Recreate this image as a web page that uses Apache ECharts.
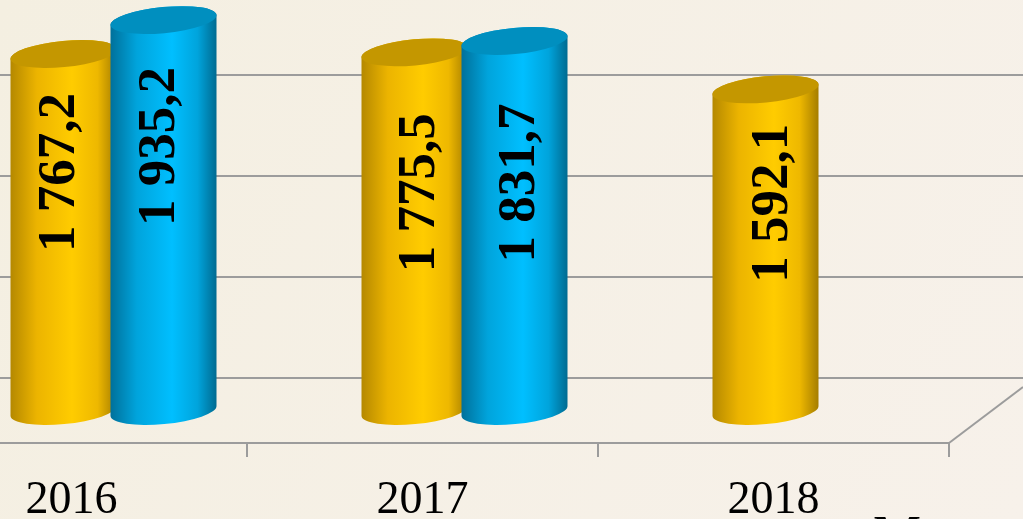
<!DOCTYPE html>
<html><head><meta charset="utf-8">
<style>html,body{margin:0;padding:0;background:#f5f0e6}#c{width:1023px;height:519px}</style>
<script src="https://cdn.jsdelivr.net/npm/echarts@6/dist/echarts.min.js"></script>
</head><body><div id="c"></div>
<script>
const categories = ['2016', '2017', '2018'];
const goldValues = [1767.2, 1775.5, 1592.1];
const blueValues = [1935.2, 1831.7, null];
const goldLabelNudge = [[-3, -60], [6, -39], [8, -47]];
const blueLabelNudge = [[-3, -69], [6, -43], [0, 0]];

const SERIF = '"Liberation Serif","Times New Roman",serif';
const fmt = v => { const s = v.toFixed(1).replace('.', ','); const p = s.split(','); return p[0].replace(/\B(?=(\d{3})+$)/g, ' ') + ',' + p[1]; };
const pal = {
  gold: {top: '#c49700', stops: ['#b48800', '#ecb400', '#ffcc00', '#eeb800', '#a47c00']},
  blue: {top: '#008fbf', stops: ['#00709a', '#00a4dc', '#00bfff', '#00a4dc', '#006a90']}
};
function cyl(kind, shift, nudges) {
  const RX = 53, RY = 13, TILT = 5, ROT = -5.5;
  return function (params, api) {
    const v = api.value(1);
    if (v == null || isNaN(v)) return null;
    const top = api.coord([api.value(0), v]);
    const base = api.coord([api.value(0), 0]);
    const cx = top[0] + shift, L = cx - RX, R = cx + RX;
    const yt = top[1], yb = base[1], c = pal[kind], n = nudges[params.dataIndex];
    const body = `M${L} ${yt + TILT}L${L} ${yb + TILT}A${RX} ${RY} ${ROT} 0 0 ${R} ${yb - TILT}L${R} ${yt - TILT}A${RX} ${RY} ${ROT} 0 0 ${L} ${yt + TILT}Z`;
    const cap = `M${L} ${yt + TILT}A${RX} ${RY} ${ROT} 0 1 ${R} ${yt - TILT}A${RX} ${RY} ${ROT} 0 1 ${L} ${yt + TILT}Z`;
    return {type: 'group', children: [
      {type: 'path', shape: {pathData: body}, style: {fill: {type: 'linear', x: 0, y: 0, x2: 1, y2: 0,
        colorStops: [{offset: 0, color: c.stops[0]}, {offset: .25, color: c.stops[1]}, {offset: .58, color: c.stops[2]}, {offset: .82, color: c.stops[3]}, {offset: 1, color: c.stops[4]}]}}},
      {type: 'path', shape: {pathData: cap}, style: {fill: c.top}},
      {type: 'text', x: cx + n[0], y: (yt + yb) / 2 + n[1], rotation: Math.PI / 2,
        style: {text: fmt(v), font: 'bold 53px ' + SERIF, fill: '#000', align: 'center', verticalAlign: 'middle'}}
    ]};
  };
}
const chart = echarts.init(document.getElementById('c'), null, {renderer: 'canvas'});
chart.setOption({
  animation: false,
  backgroundColor: {type: 'linear', x: 0, y: 0, x2: 1, y2: 1, colorStops: [{offset: 0, color: '#f4efe1'}, {offset: 1, color: '#f7f1ea'}]},
  grid: [
    {left: -104, width: 1053, top: 7, height: 404, outerBoundsMode: 'none'},
    {left: 0, right: 0, top: 75, height: 303, outerBoundsMode: 'none'}
  ],
  xAxis: [
    {type: 'category', gridIndex: 0, data: categories, offset: 32,
      axisLine: {onZero: false, lineStyle: {color: '#9c9c9c', width: 2}},
      axisTick: {show: true, length: 14, lineStyle: {color: '#9c9c9c', width: 2}},
      axisLabel: {show: true, interval: 0, color: '#000', fontFamily: SERIF, fontSize: 46, margin: 35}},
    {type: 'category', gridIndex: 1, data: categories, show: false}
  ],
  yAxis: [
    {type: 'value', gridIndex: 0, min: 0, max: 2000, show: false},
    {type: 'value', gridIndex: 1, min: 0, max: 1500, interval: 500,
      axisLabel: {show: false}, axisLine: {show: false}, axisTick: {show: false},
      splitLine: {show: true, lineStyle: {color: '#9c9c9c', width: 2}}}
  ],
  series: [
    {type: 'custom', name: 'gold', xAxisIndex: 0, yAxisIndex: 0, z: 3, renderItem: cyl('gold', -8, goldLabelNudge), encode: {x: 0, y: 1},
      data: goldValues.map((v, i) => [i, v])},
    {type: 'custom', name: 'blue', xAxisIndex: 0, yAxisIndex: 0, z: 4, renderItem: cyl('blue', 92, blueLabelNudge), encode: {x: 0, y: 1},
      data: blueValues.map((v, i) => [i, v])}
  ],
  graphic: [
    {type: 'line', shape: {x1: 949, y1: 443, x2: 1023, y2: 387}, style: {stroke: '#9c9c9c', lineWidth: 2}, z: 1},
    {type: 'text', x: 873, y: 512, style: {text: 'М', font: '54px ' + SERIF, fill: '#000'}, z: 5}
  ]
});
</script></body></html>
